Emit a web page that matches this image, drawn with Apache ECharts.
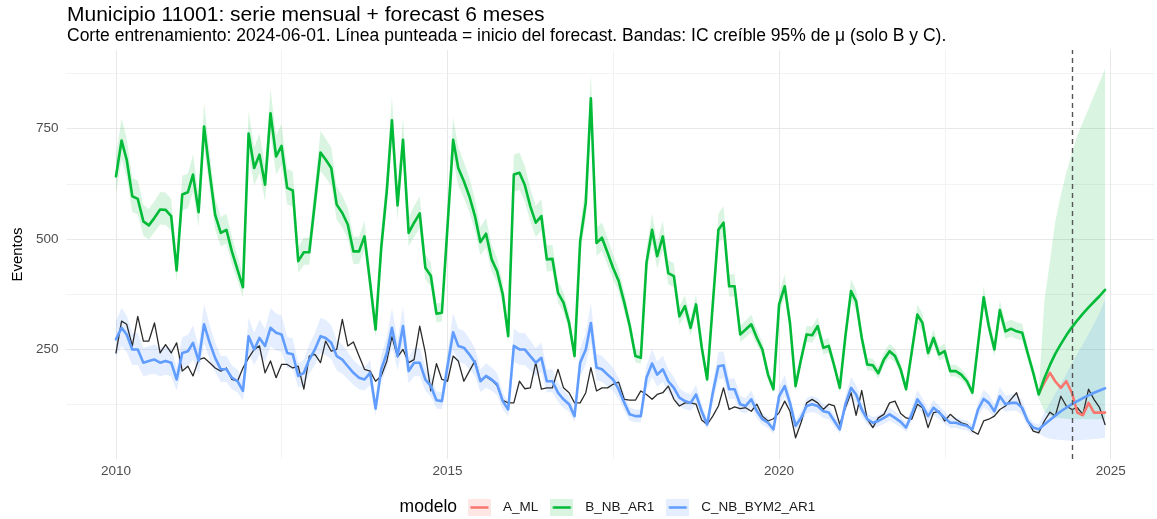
<!DOCTYPE html>
<html>
<head>
<meta charset="utf-8">
<script src="https://cdn.jsdelivr.net/npm/echarts@6/dist/echarts.min.js"></script>
<style>
  html, body { margin: 0; padding: 0; background: #ffffff; }
  #chart { width: 1157px; height: 519px; }
</style>
</head>
<body>
<div id="chart"></div>
<script>
// Monthly series for municipio 11001, Jan 2010 .. Dec 2024 (index 0 = 2010-01)
const firstYear = 2010;
const forecastFrom = 167;            // last training month (2023-12); forecasts run from here
const cutoff = { year: 2024, month: 5 }; // 2024-06-01, dashed marker

// Observed counts
const observed = [
  242, 314, 307, 258, 325, 269, 269, 310, 242, 261, 242, 265,
  201, 212, 190, 227, 231, 220, 208, 201, 208, 182, 178, 208,
  231, 250, 258, 197, 224, 186, 216, 216, 208, 212, 160, 235,
  239, 220, 269, 246, 250, 318, 258, 267, 235, 205, 201, 178,
  190, 224, 279, 233, 250, 220, 227, 303, 242, 156, 218, 182,
  178, 235, 224, 178, 201, 224, 180, 188, 180, 168, 135, 129,
  129, 178, 161, 163, 220, 160, 163, 163, 205, 163, 152, 129,
  129, 152, 209, 156, 163, 163, 171, 176, 137, 135, 135, 156,
  148, 137, 148, 152, 167, 137, 122, 129, 129, 126, 90, 80,
  99, 122, 163, 114, 120, 116, 118, 110, 126, 99, 88, 93,
  107, 133, 110, 50, 84, 129, 137, 129, 114, 126, 122, 80,
  118, 152, 101, 157, 92, 73, 95, 103, 129, 133, 105, 95,
  92, 126, 118, 73, 107, 110, 88, 103, 92, 84, 80, 65,
  58, 88, 92, 99, 114, 122, 137, 152, 114, 88, 65, 61,
  88, 108, 99, 144, 122, 114, 118, 103, 160, 137, 118, 80
];

// Model B_NB_AR1: posterior mean of mu (fit + forecast)
const modelB = [
  642, 723, 680, 597, 591, 540, 531, 548, 567, 566, 552, 429,
  601, 606, 646, 561, 755, 650, 555, 514, 521, 472, 431, 391,
  739, 661, 691, 623, 785, 687, 711, 616, 610, 450, 470, 470,
  583, 696, 680, 661, 578, 559, 533, 472, 472, 506, 401, 295,
  480, 610, 769, 576, 725, 514, 537, 558, 435, 417, 331, 333,
  529, 725, 661, 631, 597, 552, 493, 512, 454, 427, 375, 280,
  646, 650, 623, 574, 537, 552, 454, 455, 378, 356, 310, 235,
  495, 582, 819, 491, 503, 469, 435, 405, 356, 303, 235, 231,
  446, 521, 461, 506, 423, 416, 325, 348, 299, 352, 255, 182,
  352, 521, 537, 393, 393, 284, 295, 307, 276, 250, 193, 160,
  352, 393, 310, 167, 227, 284, 282, 303, 254, 258, 212, 163,
  280, 382, 359, 276, 216, 214, 196, 227, 246, 235, 205, 160,
  244, 329, 310, 242, 276, 239, 246, 201, 201, 193, 178, 152,
  261, 368, 303, 250, 339, 291, 297, 291, 288, 242, 197, 148,
  185, 215, 240, 262, 282, 300, 316, 331, 345, 358, 371, 385
];

// Model C_NB_BYM2_AR1: posterior mean of mu (fit + forecast)
const modelC = [
  273, 299, 284, 250, 250, 220, 224, 227, 220, 224, 220, 182,
  242, 246, 265, 224, 307, 265, 231, 205, 205, 186, 178, 156,
  280, 250, 276, 258, 299, 288, 284, 242, 239, 190, 197, 227,
  250, 280, 276, 265, 235, 227, 212, 197, 186, 182, 197, 116,
  205, 242, 299, 235, 303, 201, 220, 220, 182, 167, 135, 133,
  212, 289, 258, 254, 239, 220, 178, 190, 182, 171, 133, 114,
  258, 250, 250, 235, 220, 231, 178, 178, 152, 137, 126, 99,
  220, 250, 310, 209, 205, 193, 182, 160, 129, 103, 99, 99,
  186, 218, 193, 205, 178, 163, 141, 133, 129, 148, 110, 80,
  152, 212, 214, 160, 160, 126, 122, 137, 110, 92, 84, 69,
  144, 167, 129, 77, 95, 122, 126, 122, 110, 107, 88, 69,
  126, 163, 148, 114, 92, 84, 88, 95, 103, 95, 86, 73,
  103, 137, 122, 99, 118, 107, 95, 84, 84, 80, 77, 69,
  114, 138, 129, 110, 144, 126, 129, 129, 118, 88, 73, 69,
  80, 90, 100, 110, 118, 126, 133, 140, 146, 152, 157, 162
];

// Model A_ML: forecast only, from the last training month
const modelA = [150, 175, 197, 178, 163, 178, 152, 107, 101, 129, 107, 107, 107];

// 95% credible interval of mu over the training months, relative to the mean
const bandRelB = { lo: 0.94, hi: 1.07 };
const bandRelC = { lo: 0.86, hi: 1.15 };

// 95% credible interval of mu over the forecast months (from forecastFrom)
const bandB_lo_fc = [139, 110, 100, 96, 94, 93, 92, 92, 92, 92, 92, 92, 92];
const bandB_hi_fc = [158, 360, 450, 540, 600, 650, 695, 735, 765, 795, 825, 855, 886];
const bandC_lo_fc = [60, 52, 48, 46, 45, 44, 44, 44, 45, 46, 47, 48, 50];
const bandC_hi_fc = [80, 107, 128, 150, 172, 195, 218, 240, 262, 285, 308, 333, 363];

// Axis breaks
const yBreaksMajor = [250, 500, 750];
const yBreaksMinor = [125, 375, 625, 875];
const xBreaksMajor = [2010, 2015, 2020, 2025];
const xBreaksMinor = [2012.5, 2017.5, 2022.5];

const seriesNames = ['A_ML', 'B_NB_AR1', 'C_NB_BYM2_AR1'];
const colors = { A: '#F8766D', B: '#00BA38', C: '#619CFF', obs: '#2b2b2b' };
const fills  = { A: 'rgba(248,118,109,0.18)', B: 'rgba(0,186,56,0.15)', C: 'rgba(97,156,255,0.17)' };

const FONT = '"Liberation Sans", Arial, Helvetica, sans-serif';

// Date helpers: months -> decimal years (day-accurate, like a Date axis)
function decYearOf(year, month) {
  const t0 = Date.UTC(year, 0, 1), t1 = Date.UTC(year + 1, 0, 1);
  return year + (Date.UTC(year, month, 1) - t0) / (t1 - t0);
}
function decYear(i) { return decYearOf(firstYear + Math.floor(i / 12), i % 12); }

const n = observed.length;
const xs = Array.from({ length: n }, (_, i) => decYear(i));
const cutoffX = decYearOf(cutoff.year, cutoff.month);

function pairs(values, offset) {
  return values.map((v, k) => [xs[k + (offset || 0)], v]);
}

// Band bounds: relative interval on training months, explicit on forecast months
function bandPoints(mean, rel, loFc, hiFc) {
  const pts = [];
  for (let i = 0; i < n; i++) {
    let lo, hi;
    if (i >= forecastFrom) { lo = loFc[i - forecastFrom]; hi = hiFc[i - forecastFrom]; }
    else { lo = mean[i] * rel.lo; hi = mean[i] * rel.hi; }
    pts.push([xs[i], lo, hi]);
  }
  return pts;
}
const bandB = bandPoints(modelB, bandRelB, bandB_lo_fc, bandB_hi_fc);
const bandC = bandPoints(modelC, bandRelC, bandC_lo_fc, bandC_hi_fc);

// Scale limits with 5% padding on both axes
const allY = [].concat(observed, modelA,
  bandB.map(p => p[1]), bandB.map(p => p[2]), bandC.map(p => p[1]), bandC.map(p => p[2]));
const yLo = Math.min.apply(null, allY), yHi = Math.max.apply(null, allY);
const yPad = 0.05 * (yHi - yLo);
const xPad = 0.05 * (xs[n - 1] - xs[0]);
const xMin = xs[0] - xPad, xMax = xs[n - 1] + xPad;
const yMin = yLo - yPad, yMax = yHi + yPad;

function bandSeries(name, pts, fill) {
  return {
    name: name,
    type: 'custom',
    coordinateSystem: 'cartesian2d',
    xAxisIndex: 1, yAxisIndex: 1,
    silent: true,
    z: 1,
    data: pts.map(p => [p[0], p[1], p[2]]),
    encode: { x: 0, y: [1, 2] },
    renderItem: function (params, api) {
      if (params.dataIndex !== 0) return null;
      const upper = pts.map(p => api.coord([p[0], p[2]]));
      const lower = pts.map(p => api.coord([p[0], p[1]])).reverse();
      return {
        type: 'polygon',
        shape: { points: upper.concat(lower) },
        style: { fill: fill, stroke: null }
      };
    }
  };
}

function lineSeries(name, data, color, width, z) {
  return {
    name: name,
    type: 'line',
    xAxisIndex: 1, yAxisIndex: 1,
    data: data,
    showSymbol: false,
    symbol: 'none',
    smooth: false,
    z: z,
    lineStyle: { color: color, width: width, join: 'round', cap: 'round' },
    itemStyle: { color: color },
    emphasis: { disabled: true }
  };
}

// Legend keys: filled square (band colour) crossed by the line colour
function keyIcon(line, fill) {
  const c = document.createElement('canvas');
  c.width = 46; c.height = 34;
  const g = c.getContext('2d');
  g.fillStyle = '#ffffff'; g.fillRect(0, 0, 46, 34);
  g.fillStyle = fill; g.fillRect(0, 0, 46, 34);
  g.strokeStyle = line; g.lineWidth = 5;
  g.beginPath(); g.moveTo(5, 17); g.lineTo(41, 17); g.stroke();
  return 'image://' + c.toDataURL();
}

const chart = echarts.init(document.getElementById('chart'), null, { renderer: 'canvas' });

const option = {
  animation: false,
  backgroundColor: '#ffffff',
  title: {
    left: 67, top: 4, padding: 0, itemGap: 0,
    text: 'Municipio 11001: serie mensual + forecast 6 meses',
    subtext: 'Corte entrenamiento: 2024-06-01. Línea punteada = inicio del forecast. Bandas: IC creíble 95% de μ (solo B y C).',
    textStyle: { fontFamily: FONT, fontSize: 21, fontWeight: 'normal', color: '#000000', lineHeight: 22 },
    subtextStyle: { fontFamily: FONT, fontSize: 17.5, color: '#000000', lineHeight: 20 }
  },
  grid: { left: 66.5, right: 2.5, top: 50, bottom: 60, containLabel: false, outerBoundsMode: 'none' },
  legend: {
    left: 468, top: 499, padding: 0,
    itemWidth: 23, itemHeight: 17, itemGap: 12,
    selectedMode: false,
    data: [
      { name: seriesNames[0], icon: keyIcon(colors.A, fills.A) },
      { name: seriesNames[1], icon: keyIcon(colors.B, fills.B) },
      { name: seriesNames[2], icon: keyIcon(colors.C, fills.C) }
    ],
    textStyle: { fontFamily: FONT, fontSize: 13.5, color: '#1a1a1a', padding: [0, 0, 0, 7] }
  },
  graphic: [{
    type: 'text', right: 1157 - 457, top: 498,
    style: { text: 'modelo', font: '17.5px ' + FONT, fill: '#000000' }
  }],
  xAxis: [
    {
      type: 'value', position: 'bottom', min: xMin, max: xMax,
      axisLine: { show: false }, axisTick: { show: false, customValues: xBreaksMinor },
      axisLabel: { show: false },
      splitLine: { show: true, lineStyle: { color: '#f3f3f3', width: 1 } }
    },
    {
      type: 'value', position: 'bottom', min: xMin, max: xMax,
      axisLine: { show: false },
      axisTick: { show: false, customValues: xBreaksMajor },
      axisLabel: {
        show: true, customValues: xBreaksMajor, margin: 5,
        fontFamily: FONT, fontSize: 13.5, color: '#4d4d4d',
        formatter: v => String(Math.round(v))
      },
      splitLine: { show: true, lineStyle: { color: '#e8e8e8', width: 1 } }
    }
  ],
  yAxis: [
    {
      type: 'value', position: 'left', min: yMin, max: yMax,
      axisLine: { show: false }, axisTick: { show: false, customValues: yBreaksMinor },
      axisLabel: { show: false },
      splitLine: { show: true, lineStyle: { color: '#f3f3f3', width: 1 } }
    },
    {
      type: 'value', position: 'left', min: yMin, max: yMax,
      name: 'Eventos', nameLocation: 'middle', nameGap: 38, nameRotate: 90,
      nameTextStyle: { fontFamily: FONT, fontSize: 15, color: '#000000' },
      axisLine: { show: false },
      axisTick: { show: false, customValues: yBreaksMajor },
      axisLabel: {
        show: true, customValues: yBreaksMajor, margin: 8,
        fontFamily: FONT, fontSize: 13.5, color: '#4d4d4d'
      },
      splitLine: { show: true, lineStyle: { color: '#e8e8e8', width: 1 } }
    }
  ],
  series: [
    bandSeries('B_NB_AR1 IC95', bandB, fills.B),
    bandSeries('C_NB_BYM2_AR1 IC95', bandC, fills.C),
    lineSeries('Observado', pairs(observed), colors.obs, 1.3, 2),
    lineSeries(seriesNames[0], pairs(modelA, forecastFrom), colors.A, 2.6, 3),
    lineSeries(seriesNames[1], pairs(modelB), colors.B, 2.6, 3),
    Object.assign(lineSeries(seriesNames[2], pairs(modelC), colors.C, 2.6, 3), {
      markLine: {
        silent: true, symbol: ['none', 'none'], label: { show: false },
        lineStyle: { color: '#555555', width: 1.4, type: [5, 4] },
        emphasis: { disabled: true },
        data: [{ xAxis: cutoffX }],
        z: 10
      }
    })
  ]
};

chart.setOption(option);
</script>
</body>
</html>
